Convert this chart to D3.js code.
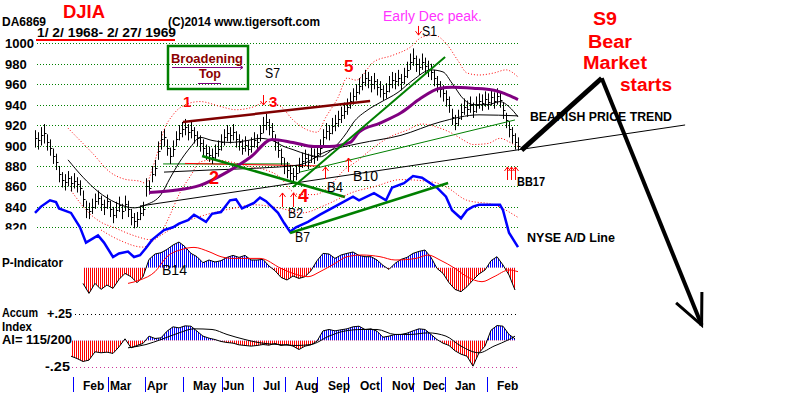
<!DOCTYPE html>
<html><head><meta charset="utf-8">
<script src="https://cdn.jsdelivr.net/npm/d3@7"></script>
<style>body{margin:0;background:#fff}svg{display:block}text{font-family:"Liberation Sans",Arial,sans-serif}</style>
</head><body><svg id="c" width="800" height="395"></svg>
<script>
// ---------- DATA ----------
const yTicks = [1000, 980, 960, 940, 920, 900, 880, 860, 840, 820];
const monthStarts = [12.5, 24.2, 36.8, 49.3, 62.2, 72.7, 83.2, 94.1, 104.3, 115.5, 126, 136.6, 150.5];
const monthLabelAt = [16, 25, 37.3, 52.7, 62.7, 76, 86.7, 97.7, 108.3, 119, 129.3, 140, 154];
const monthNames = ["Feb","Mar","Apr","May","Jun","Jul","Aug","Sep","Oct","Nov","Dec","Jan","Feb"];

const priceHi = [915,913,918,921,911,906,897,892,880,874, 872,875,870,873,869,866,856,846,844,848,
853,856,851,847,852,846,840,845,850,843, 851,846,838,834,835,841,845,868,866,880,
886,904,914,916,906,898,905,914,920,923, 926,921,923,918,914,910,906,901,899,897,
901,905,911,916,920,918,921,914,911,906, 909,905,908,913,911,920,928,931,926,922,
911,904,897,888,884,881,878,881,888,893, 896,892,898,897,900,906,916,922,920,927,
930,934,938,942,946,952,956,960,966,970, 974,972,968,971,965,963,959,961,968,972,
971,974,970,976,982,990,995,988,985,990, 986,983,980,974,968,963,959,954,948,936,
930,935,941,946,944,948,942,948,951,950, 953,951,955,952,956,953,942,932,924,918, 912,908];
const priceLo = [898,896,900,902,895,890,882,876,864,859, 856,860,855,858,854,851,840,829,828,833,
838,842,836,832,838,830,824,829,835,828, 836,830,822,819,820,827,831,850,852,864,
870,886,896,899,890,882,889,899,905,908, 910,905,907,902,899,894,890,886,884,882,
886,889,895,900,904,902,905,898,895,891, 894,890,893,898,896,904,912,915,910,906,
895,888,881,872,868,866,863,866,873,878, 880,877,883,882,885,890,900,906,905,911,
914,918,922,926,930,936,940,944,950,954, 958,956,952,955,949,947,944,946,952,956,
955,958,954,960,966,974,978,972,969,974, 970,967,964,958,952,947,943,938,932,920,
915,919,925,930,928,932,927,932,936,934, 938,935,939,936,940,937,926,917,908,902, 896,895];
const priceClose = [907,905,910,912,903,898,890,884,872,866, 864,868,863,865,862,858,848,838,836,840,
846,849,843,840,846,838,832,837,842,836, 843,838,830,826,828,834,838,860,858,872,
878,895,906,908,898,890,897,906,912,916, 918,913,915,910,907,902,898,893,891,889,
893,897,903,908,912,910,913,906,903,898, 901,897,900,905,903,912,920,923,918,914,
903,896,889,880,876,873,870,873,880,885, 888,884,890,889,893,898,908,914,912,919,
922,926,930,934,938,944,948,952,958,962, 966,964,960,963,957,955,951,953,960,964,
963,966,962,968,974,982,986,980,977,982, 978,975,972,966,960,955,951,946,940,928,
922,927,933,938,936,940,934,940,944,942, 946,943,947,944,948,945,935,925,916,910, 903,900];

const ma21At  = [11,16,21,27,33,37,42,45,48,52,55,59,65,71,75,79,83,86,91,95,99,104,106,111,115,121,126,132,136,139,143,146,151,155,158,161];
const ma21Val = [886,869,855,844,839,842,852,868,883,899,908,905,903,905,907,905,899,896,891,889,896,913,922,935,942,952,964,974,972,961,945,940,940,943,938,928];
const ma65At  = [38,46,55,64,72,79,86,93,98,105,108,115,122,128,135,139,146,153,158,161];
const ma65Val = [854,856,861,874,889,906,903,899,899,903,913,922,932,945,956,957,956,954,949,945];
const longAt  = [43,58,75,88,97,108,122,135,148,161];
const longVal = [874,876,878,881,894,902,910,923,930,929];
const upperAt  = [11,15,19,25,30,35,37,39,41,43,46,51,55,62,67,73,77,82,86,91,94,97,101,104,107,113,119,125,129,133,137,141,144,148,153,157,161];
const upperVal = [917,905,893,874,867,865,863,876,895,915,930,941,943,938,935,938,943,938,925,915,913,928,947,966,964,982,988,996,1006,1008,1000,983,971,969,971,974,967];
const lowerAt  = [12,18,22,27,31,35,38,42,45,48,52,55,60,65,72,77,82,85,88,93,97,100,103,107,112,118,124,129,135,139,143,146,151,155,159,161];
const lowerVal = [856,834,825,819,814,810,808,815,832,852,871,884,886,884,879,876,868,857,852,852,857,866,876,884,896,908,915,921,917,912,905,901,902,907,902,899];

const adAt  = [0,2,5,7,8,12,15,17,21,23,26,28,31,33,35,37,39,43,46,48,51,53,55,57,59,62,65,67,69,73,75,77,81,83,85,87,91,95,101,106,108,113,117,119,123,126,129,134,137,139,142,144,146,148,155,156,158,161];
const adVal = [49,56,63,61,54,49,33,16,24,16,0,4,6,0,2,10,19,30,33,37,41,47,43,39,48,50,63,64,54,60,66,62,49,38,28,33,39,47,58,67,63,71,63,77,82,90,88,77,67,52,43,52,56,58,58,52,27,11];
const adMaAt  = [22,28,36,41,48,57,66,73,82,89,97,106,113,122,133,137,144,153,161];
const adMaVal = [30,19,11,22,36,47,54,58,54,49,58,72,78,86,83,78,63,58,44];

const indSessions = [12,14,16,18,20,22,24,26,28,30,32,34,36,38,40,42,44,46,48,50,52,54,56,58,60,62,64,66,68,70,
72,74,76,78,80,82,84,86,88,90,92,94,96,98,100,102,104,106,108,110,112,114,116,118,120,122,124,126,128,130,
132,134,136,138,140,142,144,146,148,150,152,154,156,158,160];
const pIndicator = [null,null,-157,-257,-157,-217,-173,-207,-117,-57,-90,-150,-90,83,137,150,183,227,257,210,
143,110,50,77,57,70,103,123,103,123,77,77,83,17,-30,-97,-123,-83,-107,-90,
-30,70,143,137,93,127,143,157,123,110,110,77,23,-17,43,83,103,143,163,177,
103,-7,-57,-150,-217,-240,-190,-123,-63,-23,70,110,27,-73,-223];
const accumIndex = [-0.148,-0.170,-0.198,-0.185,-0.107,-0.116,-0.110,-0.122,-0.060,0.016,-0.069,-0.047,-0.028,0.041,0.019,0.025,0.088,0.129,0.119,0.138,
0.135,0.088,0.041,0.022,0.009,-0.009,-0.019,-0.025,-0.041,-0.047,-0.053,-0.047,-0.038,-0.044,-0.028,-0.047,-0.038,-0.053,-0.085,-0.053,
-0.041,-0.006,0.091,0.104,0.091,0.101,0.110,0.129,0.135,0.104,0.110,0.088,0.031,0.041,0.057,0.057,0.069,0.091,0.110,0.104,
0.057,0.009,-0.025,-0.047,-0.097,-0.129,-0.148,-0.242,-0.116,-0.053,0.097,0.141,0.135,0.057,0.016];
const pMaAt  = [31,35,40,44,49,53,58,62,66,75,82,86,91,95,100,104,109,115,120,127,131,135,140,144,149,153,158,161];
const pMaVal = [-157,-123,-40,110,183,203,160,110,93,93,-7,-57,-90,-40,43,110,127,110,77,93,127,77,-7,-90,-140,-90,-23,-40];
const aiMaAt  = [31,37,42,48,53,59,64,70,75,81,87,92,98,103,109,114,120,125,131,137,142,148,153,158,160];
const aiMaVal = [-0.069,-0.038,0.009,0.072,0.110,0.104,0.057,0.009,-0.022,-0.038,-0.047,-0.038,0.041,0.088,0.104,0.104,0.057,0.057,0.072,0.041,-0.053,-0.116,-0.053,0.009,0.041];

// trendlines & annotations in (session, price)
const maroonTrend = [[49.3,922.9],[111.7,943.5]];
const greenDown   = [[55.7,889.8],[103.3,849.6]];
const greenSteep  = [[86,859.4],[136.7,986.6]];
const greenThin   = [[88.3,874],[160,925]];
const supportLine = [[35,840.8],[216.7,920.1]];
const greenFlat   = [[42.7,882],[85,882]];
const redFlat     = [[50,882.5],[95,880]];
const adTrend     = [[85,26.7],[137.7,82.2]];
const bigArrow    = [[162.2,895.6],[188.9,965.8],[222.2,724.4]];
const arrowHeadA  = [[213.7,746],[222.2,724.4],[222.3,756.7]];
const buyArrows   = [[82.3,853.6,839.9],[86,853.6,839.9],[96.7,879,867.2],[104.3,887.8,874.1],[157.3,879,866.3],[158.7,879,866.3],[160,879,866.3]];
const sellArrows  = [[76,949.4,939.6],[127.7,1017,1008]];

// ---------- SCALES ----------
const svg = d3.select("#c");
const x  = d3.scaleLinear().domain([0,161]).range([35,518]);
const y  = d3.scaleLinear().domain([820,1000]).range([227.3,43.3]);
const ad = d3.scaleLinear().domain([0,100]).range([257,167]);
const pS = d3.scaleLinear().domain([-300,300]).range([297.7,237.7]);
const aS = d3.scaleLinear().domain([-0.25,0.25]).range([367,314]);
const zip = (a,b) => a.map((s,i)=>[s,b[i]]);

const defs = svg.append("defs");
function stripe(id,color){
  const p = defs.append("pattern").attr("id",id).attr("width",2).attr("height",4).attr("patternUnits","userSpaceOnUse");
  p.append("rect").attr("width",1).attr("height",4).attr("fill",color);
}
stripe("sb","#0000ff"); stripe("sr","#ff0000");
defs.append("clipPath").attr("id","lab820").append("rect").attr("x",0).attr("y",0).attr("width",40).attr("height",229.5);

// ---------- GRID ----------
svg.append("g").selectAll("line").data(yTicks).join("line")
  .attr("x1",37).attr("x2",518).attr("y1",d=>Math.round(y(d))+0.5).attr("y2",d=>Math.round(y(d))+0.5)
  .attr("stroke","#008000").attr("stroke-dasharray","1,2");
svg.append("g").attr("clip-path","url(#lab820)").selectAll("text").data(yTicks).join("text")
  .attr("x",5).attr("y",d=>y(d)+5).text(d=>d).attr("font-size",13).attr("font-weight","bold");

function drawLine(data, sx, sy, stroke, width, dash, curve){
  svg.append("path").datum(data).attr("fill","none").attr("stroke",stroke).attr("stroke-width",width)
    .attr("stroke-dasharray",dash||null)
    .attr("d",d3.line().defined(d=>d[1]!=null).x(d=>sx(d[0])).y(d=>sy(d[1])).curve(curve||d3.curveLinear));
}

// bands & faint lines
drawLine(zip(upperAt,upperVal), x, y, "#ff0000", 1, "1,2", d3.curveMonotoneX);
drawLine(zip(lowerAt,lowerVal), x, y, "#ff0000", 1, "1,2", d3.curveMonotoneX);
drawLine(greenFlat, x, y, "#008000", 1);
drawLine(redFlat, x, y, "#ff0000", 1);
drawLine(supportLine, x, y, "#000", 1);

// price bars
const bars = svg.append("g").attr("stroke","#000").attr("stroke-width",1);
priceHi.forEach((h,i)=>{
  const xx = Math.round(x(i))+0.5;
  bars.append("line").attr("x1",xx).attr("x2",xx).attr("y1",y(h)).attr("y2",y(priceLo[i]));
  bars.append("line").attr("x1",xx).attr("x2",xx+2).attr("y1",Math.round(y(priceClose[i]))+0.5).attr("y2",Math.round(y(priceClose[i]))+0.5);
});

// moving averages and trendlines
drawLine(zip(ma21At,ma21Val), x, y, "#000", 1, null, d3.curveMonotoneX);
drawLine(zip(longAt,longVal), x, y, "#000", 1, null, d3.curveMonotoneX);
drawLine(zip(ma65At,ma65Val), x, y, "#800080", 3, null, d3.curveMonotoneX);
drawLine(maroonTrend, x, y, "#800000", 2.5);
drawLine(greenDown, x, y, "#008000", 2.5);
drawLine(greenSteep, x, y, "#008000", 2);
drawLine(greenThin, x, y, "#008000", 1);

// A/D line
drawLine(zip(adMaAt,adMaVal), x, ad, "#ff0000", 1, "1,2", d3.curveMonotoneX);
drawLine(zip(adAt,adVal), x, ad, "#0000ff", 2.5);
drawLine(adTrend, x, ad, "#008000", 2.5);

// arrows
const ar = svg.append("g").attr("stroke","#ff0000").attr("stroke-width",1).attr("fill","none");
buyArrows.forEach(a=>{
  const xx=Math.round(x(a[0]))+0.5, t=y(a[1]), b=y(a[2]);
  ar.append("path").attr("d",`M${xx},${b}V${t}M${xx-3},${t+4}L${xx},${t}L${xx+3},${t+4}`);
});
sellArrows.forEach(a=>{
  const xx=Math.round(x(a[0]))+0.5, t=y(a[1]), b=y(a[2]);
  ar.append("path").attr("d",`M${xx},${t}V${b}M${xx-3},${b-4}L${xx},${b}L${xx+3},${b-4}`);
});

// big arrow
drawLine(bigArrow.slice(0,2), x, y, "#000", 5);
drawLine(bigArrow.slice(1), x, y, "#000", 4);
drawLine(arrowHeadA, x, y, "#000", 3);

// ---------- P-INDICATOR & AI ----------
function histo(vals, sc, idp){
  const data = zip(indSessions, vals);
  const z = sc(0);
  defs.append("clipPath").attr("id",idp+"pos").append("rect").attr("x",0).attr("y",0).attr("width",800).attr("height",z);
  defs.append("clipPath").attr("id",idp+"neg").append("rect").attr("x",0).attr("y",z).attr("width",800).attr("height",400-z);
  const area = d3.area().defined(d=>d[1]!=null).x(d=>x(d[0])).y0(z).y1(d=>sc(d[1]));
  svg.append("path").datum(data).attr("d",area).attr("fill","url(#sb)").attr("clip-path",`url(#${idp}pos)`);
  svg.append("path").datum(data).attr("d",area).attr("fill","url(#sr)").attr("clip-path",`url(#${idp}neg)`);
  drawLine(data, x, sc, "#000", 1);
}
histo(pIndicator, pS, "p");
drawLine(zip(pMaAt,pMaVal), x, pS, "#ff0000", 1, null, d3.curveMonotoneX);

svg.append("line").attr("x1",75).attr("x2",518).attr("y1",Math.round(aS(0.25))+0.5).attr("y2",Math.round(aS(0.25))+0.5)
  .attr("stroke","#000").attr("stroke-dasharray","1,3");
svg.append("line").attr("x1",72).attr("x2",518).attr("y1",Math.round(aS(-0.25))+0.5).attr("y2",Math.round(aS(-0.25))+0.5)
  .attr("stroke","#cc3399").attr("stroke-dasharray","1,3");
histo(accumIndex, aS, "a");
drawLine(zip(aiMaAt,aiMaVal), x, aS, "#000", 1, null, d3.curveMonotoneX);

// month axis
svg.append("g").selectAll("line").data(monthStarts).join("line")
  .attr("x1",d=>Math.round(x(d))+0.5).attr("x2",d=>Math.round(x(d))+0.5).attr("y1",377).attr("y2",392)
  .attr("stroke","#0000ff");
svg.append("g").selectAll("text").data(monthNames).join("text")
  .attr("x",(d,i)=>x(monthLabelAt[i])).attr("y",390).text(d=>d).attr("font-size",12).attr("font-weight","bold");

// ---------- TEXT ----------
function txt(px,py,s,o={}){
  const t = svg.append("text").attr("x",px).attr("y",py).text(s)
    .attr("font-size",o.size||12).attr("font-weight",o.weight||"bold").attr("fill",o.fill||"#000");
  if(o.len) t.attr("textLength",o.len).attr("lengthAdjust","spacingAndGlyphs");
  return t;
}
txt(63,18,"DJIA",{size:18,fill:"#ff0000",len:42});
txt(2,26,"DA6869",{size:13,len:44});
txt(168,26,"(C)2014 www.tigersoft.com",{size:12,len:152});
txt(37,37,"1/ 2/ 1968- 2/ 27/ 1969",{size:12,len:139});
svg.append("line").attr("x1",36).attr("x2",175).attr("y1",40).attr("y2",40).attr("stroke","#ff0000").attr("stroke-width",2);

svg.append("rect").attr("x",168).attr("y",46).attr("width",80).attr("height",43).attr("fill","none").attr("stroke","#008000").attr("stroke-width",2.5);
txt(171,63,"Broadening",{size:13,fill:"#8b0000",len:72});
txt(199,78,"Top",{size:13,fill:"#8b0000",len:22});
svg.append("path").attr("d","M172,67.5H243M240,65.5L243,67.5L240,69.5").attr("stroke","#800080").attr("fill","none");
svg.append("line").attr("x1",198).attr("x2",221).attr("y1",83.5).attr("y2",83.5).attr("stroke","#800080");

txt(265,78,"S7",{size:14,weight:"normal",len:15});
txt(344,72,"5",{size:17,fill:"#ff0000"});
txt(183,107,"1",{size:15,fill:"#ff0000"});
txt(269,107,"3",{size:15,fill:"#ff0000"});
txt(209,184,"2",{size:18,fill:"#ff0000"});
txt(298,202,"4",{size:19,fill:"#ff0000"});
txt(383,21,"Early Dec peak.",{size:14,weight:"normal",fill:"#ff33ff",len:99});
txt(422,36,"S1",{size:14,weight:"normal",len:15});
txt(288,218,"B2",{size:14,weight:"normal",len:15});
txt(327,192,"B4",{size:14,weight:"normal",len:16});
txt(353,181,"B10",{size:14,weight:"normal",len:25});
txt(295,242,"B7",{size:14,weight:"normal",len:15});
txt(162,275,"B14",{size:14,weight:"normal",len:25});
txt(517,186,"BB17",{size:12,len:28});

txt(593,25,"S9",{size:18,fill:"#ff0000",len:24});
txt(588,48,"Bear",{size:18,fill:"#ff0000",len:44});
txt(583,69,"Market",{size:18,fill:"#ff0000",len:64});
txt(620,91,"starts",{size:18,fill:"#ff0000",len:52});
txt(530,121,"BEARISH PRICE TREND",{size:12,len:142});
txt(527,242,"NYSE A/D Line",{size:12,len:88});

txt(2,267,"P-Indicator",{size:12,len:61});
txt(2,317,"Accum",{size:12,len:36});
txt(47,318,"+.25",{size:12,len:25});
txt(2,331,"Index",{size:12,len:30});
txt(2,344,"AI= 115/200",{size:12,len:70});
txt(45,371,"-.25",{size:12,len:25});
</script></body></html>
